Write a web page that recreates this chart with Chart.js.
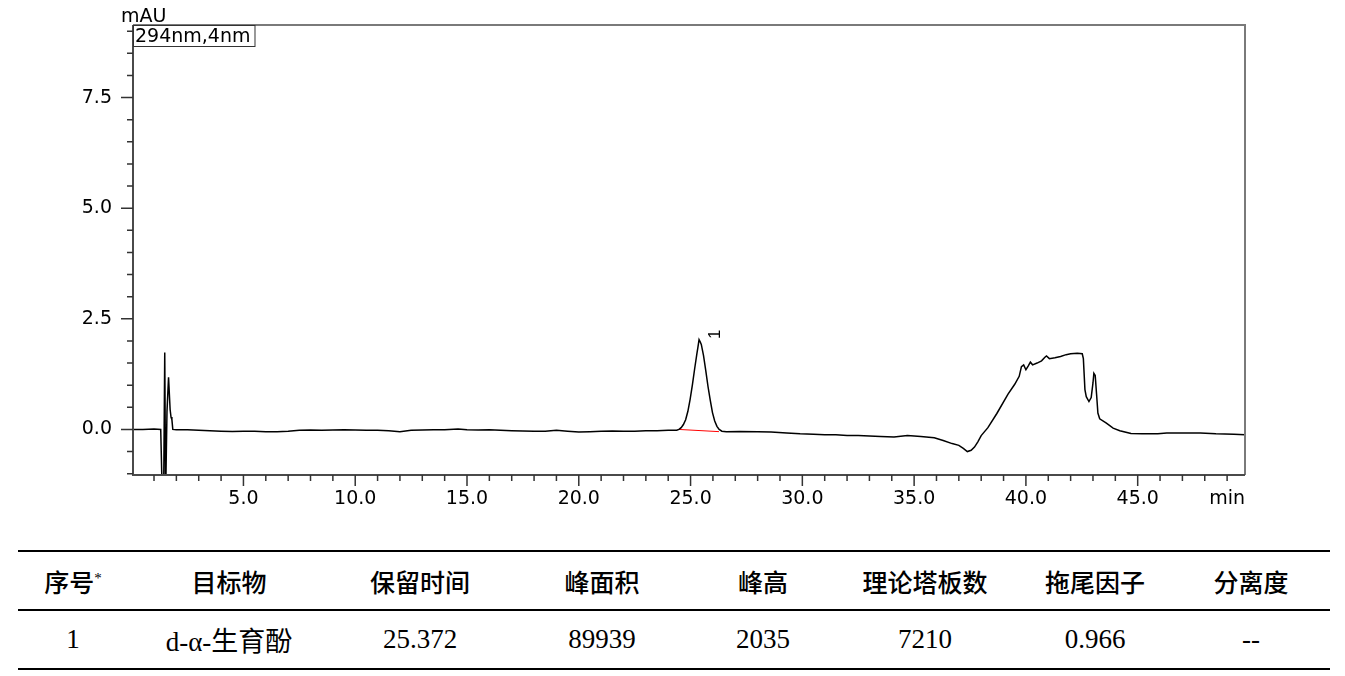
<!DOCTYPE html>
<html>
<head>
<meta charset="utf-8">
<script src="https://cdn.jsdelivr.net/npm/chart.js@4.4.1/dist/chart.umd.min.js"></script>
<style>
  body { margin: 0; background: #fff; width: 1345px; height: 676px; position: relative; overflow: hidden; }
  #wrap { position: absolute; left: 0; top: 0; width: 1345px; height: 520px; }
  table { position: absolute; left: 18px; top: 550px; width: 1312px; border-collapse: collapse; table-layout: fixed; }
  th, td { text-align: center; padding: 0; height: 57px; color: #000; }
  th { font-family: "Noto Sans CJK SC", sans-serif; font-size: 25px; font-weight: 500; border-top: 2.5px solid #000; border-bottom: 2px solid #000; }
  th sup { font-size: 15px; vertical-align: 9px; font-family: "Liberation Serif", serif; }
  td { font-family: "Liberation Serif", "Noto Sans CJK SC", serif; font-size: 27px; border-bottom: 2.5px solid #000; }
</style>
</head>
<body>
<div id="wrap"><canvas id="chromChart" width="1345" height="520"></canvas></div>

<table>
  <colgroup>
    <col style="width:110px"><col style="width:202px"><col style="width:180px"><col style="width:184px">
    <col style="width:138px"><col style="width:186px"><col style="width:154px"><col style="width:158px">
  </colgroup>
  <thead>
    <tr id="headRow"></tr>
  </thead>
  <tbody>
    <tr id="dataRow"></tr>
  </tbody>
</table>

<script>
// Chromatogram trace (time in min, signal in mAU)
const timeMin = [
  0.06, 0.5, 1.0, 1.3, 1.37, 1.43, 1.48, 1.52, 1.58, 1.65, 1.72, 1.76, 1.8, 1.84,
  2.0, 2.5, 3.0, 3.5, 4.0, 4.5, 5.0, 5.5, 6.0, 6.5, 7.0, 7.5, 8.0, 8.5, 9.0, 9.5,
  10.0, 10.5, 11.0, 11.5, 12.0, 12.5, 13.0, 13.5, 14.0, 14.6, 15.0, 15.5, 16.0, 16.5,
  17.0, 17.5, 18.0, 18.5, 19.0, 19.5, 20.0, 20.5, 21.0, 21.5, 22.0, 22.5, 23.0, 23.5,
  24.0, 24.38, 24.48, 24.58, 24.68, 24.78, 24.88, 24.98, 25.08, 25.18, 25.28, 25.33,
  25.38, 25.43, 25.48, 25.58, 25.68, 25.78, 25.88, 25.98, 26.08, 26.18, 26.28, 26.4,
  26.6, 27.2, 28.0, 28.6, 29.3, 29.9, 30.5, 31.0, 31.5, 32.0, 32.5, 33.0, 33.5, 34.1,
  34.7, 35.3, 35.9, 36.3, 36.7, 37.0, 37.2, 37.38, 37.55, 37.7, 37.85, 38.0, 38.3,
  38.7, 39.2, 39.5, 39.7, 39.8, 39.9, 40.0, 40.1, 40.2, 40.3, 40.5, 40.7, 40.85, 40.92,
  41.05, 41.3, 41.55, 41.8, 42.0, 42.3, 42.52, 42.57, 42.64, 42.7, 42.82, 42.92, 43.0,
  43.04, 43.1, 43.16, 43.22, 43.3, 43.6, 43.9, 44.2, 44.7, 45.2, 45.9, 46.3, 47.0,
  47.8, 48.5, 49.3, 49.8
];
const signal = [
  0.0, 0.0, 0.01, 0.0, -1.5, -1.5, 1.74, -1.5, 0.4, 1.18, 0.45, 0.28, 0.22, 0.0,
  -0.01, -0.01, -0.02, -0.03, -0.04, -0.045, -0.04, -0.04, -0.05, -0.05, -0.04, -0.02, -0.015, -0.02, -0.015, -0.01,
  -0.015, -0.02, -0.02, -0.03, -0.05, -0.02, -0.015, -0.01, -0.01, 0.01, -0.01, -0.015, -0.01, -0.02,
  -0.03, -0.035, -0.04, -0.04, -0.02, -0.04, -0.06, -0.05, -0.04, -0.035, -0.04, -0.04, -0.03, -0.03,
  -0.02, -0.02, 0.0, 0.04, 0.11, 0.22, 0.41, 0.68, 1.0, 1.36, 1.7, 1.86,
  2.03, 1.98, 1.92, 1.67, 1.33, 0.97, 0.66, 0.38, 0.19, 0.07, 0.0, -0.04,
  -0.05, -0.045, -0.05, -0.06, -0.08, -0.1, -0.11, -0.12, -0.12, -0.135, -0.14, -0.15, -0.16, -0.17,
  -0.14, -0.16, -0.19, -0.25, -0.32, -0.36, -0.43, -0.5, -0.47, -0.4, -0.28, -0.14, 0.04,
  0.36, 0.8, 1.02, 1.2, 1.42, 1.46, 1.35, 1.43, 1.52, 1.46, 1.5, 1.55, 1.63, 1.66,
  1.6, 1.62, 1.65, 1.69, 1.71, 1.72, 1.71, 1.6, 0.9, 0.74, 0.63, 0.72, 1.05,
  1.27, 1.22, 0.8, 0.37, 0.24, 0.14, 0.03, -0.03, -0.09, -0.1, -0.1, -0.08, -0.08,
  -0.08, -0.1, -0.11, -0.12
];

// Integration baseline under peak 1
const baseTime = [24.47, 26.27];
const baseSignal = [0.0, -0.05];

// Peak labels
const peakTimes = [25.372];
const peakHeights = [2.035];
const peakNames = ['1'];

// Axis ticks
const xTicks = [1, 2, 3, 4, 5, 6, 7, 8, 9, 10, 11, 12, 13, 14, 15, 16, 17, 18, 19, 20, 21, 22, 23, 24, 25,
  26, 27, 28, 29, 30, 31, 32, 33, 34, 35, 36, 37, 38, 39, 40, 41, 42, 43, 44, 45, 46, 47, 48, 49];
const xLabelTicks = [5, 10, 15, 20, 25, 30, 35, 40, 45];
const yTicks = [-1.0, -0.5, 0.0, 0.5, 1.0, 1.5, 2.0, 2.5, 3.0, 3.5, 4.0, 4.5, 5.0, 5.5, 6.0, 6.5, 7.0, 7.5, 8.0, 8.5, 9.0];
const yLabelTicks = [0.0, 2.5, 5.0, 7.5];

// Results table
const tableHeaders = ['序号', '目标物', '保留时间', '峰面积', '峰高', '理论塔板数', '拖尾因子', '分离度'];
const tableRow = ['1', 'd-α-生育酚', '25.372', '89939', '2035', '7210', '0.966', '--'];

const headRow = document.getElementById('headRow');
tableHeaders.forEach((h, i) => {
    const th = document.createElement('th');
    th.innerHTML = i === 0 ? h + '<sup>*</sup>' : h;
    headRow.appendChild(th);
});
const dataRow = document.getElementById('dataRow');
tableRow.forEach(v => {
    const td = document.createElement('td');
    td.textContent = v;
    dataRow.appendChild(td);
});

const tickFont = '19px "DejaVu Sans"';

// Frame, tick marks, units and peak labels
const chromDecor = {
    id: 'chromDecor',
    afterDraw(chart) {
        const {ctx, chartArea: a, scales: {x, y}} = chart;
        ctx.save();

        // top and right frame
        ctx.strokeStyle = '#7a7a7a';
        ctx.lineWidth = 2;
        ctx.beginPath();
        ctx.moveTo(a.left, a.top);
        ctx.lineTo(a.right, a.top);
        ctx.lineTo(a.right, a.bottom);
        ctx.stroke();

        // axis lines
        ctx.strokeStyle = '#4a4a4a';
        ctx.beginPath();
        ctx.moveTo(a.left, a.top);
        ctx.lineTo(a.left, a.bottom);
        ctx.lineTo(a.right, a.bottom);
        ctx.stroke();

        // tick marks
        ctx.strokeStyle = '#333';
        ctx.lineWidth = 1.5;
        ctx.beginPath();
        xTicks.forEach(v => {
            const px = x.getPixelForValue(v);
            const len = xLabelTicks.includes(v) ? 11 : 6;
            ctx.moveTo(px, a.bottom);
            ctx.lineTo(px, a.bottom + len);
        });
        yTicks.forEach(v => {
            const py = y.getPixelForValue(v);
            const len = yLabelTicks.includes(v) ? 12 : 6;
            ctx.moveTo(a.left, py);
            ctx.lineTo(a.left - len, py);
        });
        ctx.stroke();

        // units
        ctx.fillStyle = '#000';
        ctx.font = tickFont;
        ctx.textBaseline = 'alphabetic';
        ctx.textAlign = 'right';
        ctx.fillText('min', a.right, a.bottom + 29);
        ctx.textAlign = 'left';
        ctx.fillText('mAU', a.left - 12, a.top - 3);

        // detector box
        const label = '294nm,4nm';
        const w = ctx.measureText(label).width + 6;
        ctx.fillStyle = '#fff';
        ctx.fillRect(a.left, a.top, w, 22);
        ctx.strokeStyle = '#333';
        ctx.lineWidth = 1;
        ctx.strokeRect(a.left + 0.5, a.top + 0.5, w, 21);
        ctx.fillStyle = '#000';
        ctx.fillText(label, a.left + 2, a.top + 17);

        // peak numbers, rotated
        ctx.font = '17px "Liberation Sans"';
        ctx.textAlign = 'center';
        peakTimes.forEach((t, i) => {
            ctx.save();
            ctx.translate(x.getPixelForValue(t) + 21, y.getPixelForValue(peakHeights[i]) - 5);
            ctx.rotate(-Math.PI / 2);
            ctx.fillText(peakNames[i], 0, 0);
            ctx.restore();
        });
        ctx.restore();
    }
};

new Chart(document.getElementById('chromChart'), {
    type: 'line',
    data: {
        datasets: [
            {
                data: timeMin.map((t, i) => ({x: t, y: signal[i]})),
                borderColor: '#000',
                borderWidth: 1.5,
                pointRadius: 0,
                tension: 0
            },
            {
                data: baseTime.map((t, i) => ({x: t, y: baseSignal[i]})),
                borderColor: '#ff0000',
                borderWidth: 1,
                pointRadius: 0,
                tension: 0
            }
        ]
    },
    options: {
        responsive: false,
        animation: false,
        events: [],
        layout: {padding: {top: 25, right: 100, left: 0, bottom: 0}},
        plugins: {legend: {display: false}, tooltip: {enabled: false}},
        scales: {
            x: {
                type: 'linear',
                min: 0.06,
                max: 49.8,
                grid: {display: false},
                border: {display: false},
                afterBuildTicks: s => { s.ticks = xTicks.map(v => ({value: v})); },
                afterFit: s => { s.height = 45; },
                ticks: {
                    autoSkip: false,
                    maxRotation: 0,
                    padding: 5,
                    color: '#000',
                    font: {family: 'DejaVu Sans', size: 19},
                    callback: v => xLabelTicks.includes(v) ? v.toFixed(1) : ''
                }
            },
            y: {
                min: -1.03,
                max: 9.14,
                grid: {display: false},
                border: {display: false},
                afterBuildTicks: s => { s.ticks = yTicks.map(v => ({value: v})); },
                afterFit: s => { s.width = 133; },
                ticks: {
                    autoSkip: false,
                    padding: 13,
                    color: '#000',
                    font: {family: 'DejaVu Sans', size: 19},
                    callback: v => yLabelTicks.includes(v) ? v.toFixed(1) : ''
                }
            }
        }
    },
    plugins: [chromDecor]
});
</script>
</body>
</html>
